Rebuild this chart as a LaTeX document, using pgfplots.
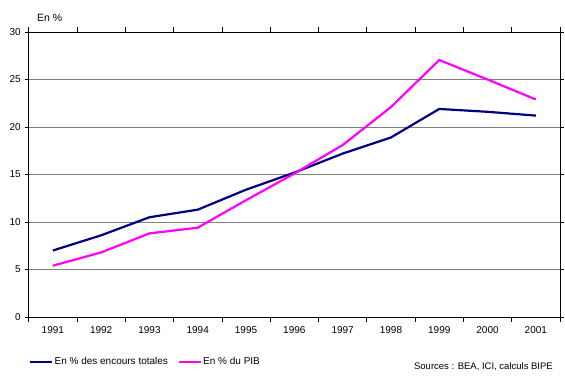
\documentclass[border=0pt]{standalone}
\usepackage{fontspec}
\setmainfont{Liberation Sans}
\usepackage{pgfplots}
\pgfplotsset{compat=1.18}
\definecolor{navyline}{RGB}{0,0,128}
\definecolor{magline}{RGB}{255,0,255}
\definecolor{gridgray}{RGB}{128,128,128}
\begin{document}
\begin{tikzpicture}[x=1pt,y=1pt]
\useasboundingbox (0,0) rectangle (565,384);
\begin{axis}[
  at={(28.7pt,67pt)}, anchor=south west,
  scale only axis, width=531.3pt, height=285pt,
  xmin=0.5, xmax=11.5, ymin=0, ymax=30,
  xtick={1,2,3,4,5,6,7,8,9,10,11},
  xticklabels={1991,1992,1993,1994,1995,1996,1997,1998,1999,2000,2001},
  major x tick style={draw=none},
  minor xtick={0.5,1.5,2.5,3.5,4.5,5.5,6.5,7.5,8.5,9.5,10.5,11.5},
  minor tick length=5pt,
  major tick length=4pt,
  tick align=outside,
  tick style={black, line width=0.75pt},
  ytick={0,5,10,15,20,25,30},
  ymajorgrids,
  grid style={gridgray, line width=0.75pt},
  axis line style={black, line width=0.75pt},
  tick label style={font=\fontsize{10}{11}\selectfont},
  xticklabel style={yshift=-1.5pt},
  yticklabel style={xshift=-0.5pt},
  /pgf/number format/assume math mode=true,
  legend style={at={(axis description cs:0,-0.158)}, anchor=west, draw=none, fill=none,
    font=\fontsize{10}{11}\selectfont, inner sep=0pt,
    /tikz/every even column/.append style={column sep=8pt},
    nodes={inner sep=1.5pt}},
  legend columns=2,
  legend cell align=left,
  legend image code/.code={\draw[#1] (0pt,0pt) -- (22pt,0pt);},
]
\addplot[navyline, line width=2.2pt] coordinates {
 (1,7.0) (2,8.6) (3,10.5) (4,11.3) (5,13.4) (6,15.2) (7,17.2) (8,18.9) (9,21.9) (10,21.6) (11,21.2)};
\addlegendentry{En \% des encours totales}
\addplot[magline, line width=2.2pt] coordinates {
 (1,5.4) (2,6.8) (3,8.8) (4,9.4) (5,12.3) (6,15.1) (7,18.1) (8,22.1) (9,27.05) (10,25.0) (11,22.9)};
\addlegendentry{En \% du PIB}
\end{axis}
\node[anchor=west, font=\fontsize{10.5}{11}\selectfont, inner sep=0pt] at (37,366) {En \%};
\node[anchor=east, font=\fontsize{9.5}{10}\selectfont, inner sep=0pt] at (553,17) {Sources : BEA, ICI, calculs BIPE};
\end{tikzpicture}
\end{document}
